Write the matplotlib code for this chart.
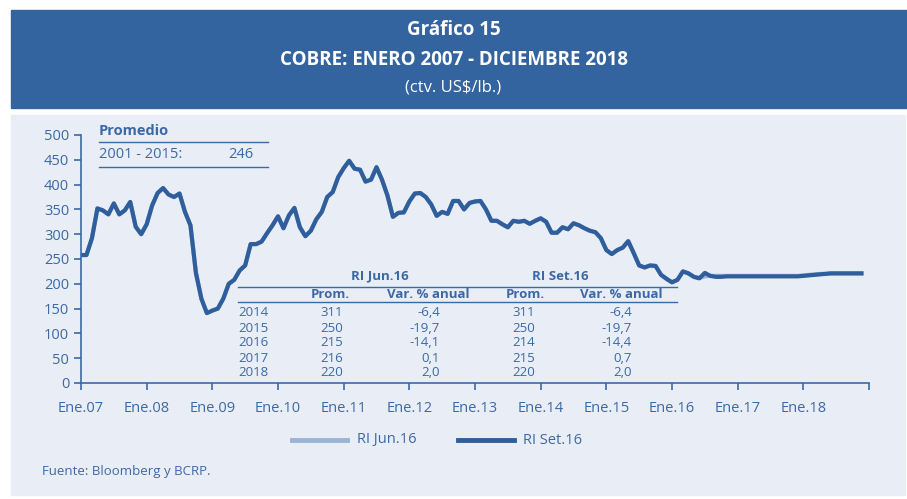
import numpy as np
import matplotlib
matplotlib.use("Agg")
from matplotlib import pyplot as plt
from matplotlib.patches import Rectangle
from matplotlib.lines import Line2D

# copper price, ctv. US$/lb, monthly Jan 2007 - Dec 2018
hist = [
    258, 258, 292, 352, 348, 340, 362, 340, 348, 365, 315, 300,  # 2007
    320, 358, 383, 393, 380, 375, 382, 345, 318, 222, 170, 141,  # 2008
    146, 150, 170, 200, 208, 227, 237, 280, 280, 285, 302, 318,  # 2009
    336, 312, 338, 353, 314, 296, 307, 330, 345, 375, 385, 415,  # 2010
    433, 448, 432, 430, 406, 410, 435, 410, 378, 335, 343, 344,  # 2011
    366, 382, 383, 375, 360, 337, 345, 341, 367, 367, 350, 363,  # 2012
    366, 367, 350, 327, 327, 320, 314, 327, 325, 327, 321, 327,  # 2013
    332, 325, 303, 303, 314, 310, 322, 318, 312, 307, 304, 292,  # 2014
    268, 260, 268, 273, 286, 262, 237, 233, 237, 236, 218, 210,  # 2015
    203, 208, 225, 221, 214,                                     # 2016 Jan-May
]
proj_jun16 = [
    212, 215, 216, 216, 216, 216, 216,
    216, 216, 216, 216, 216, 216, 216, 216, 216, 216, 216, 216,
    217, 218, 219, 220, 220, 221, 221, 221, 221, 221, 221, 221,
]
proj_set16 = [
    211, 222, 216, 214, 214, 215, 215,
    215, 215, 215, 215, 215, 215, 215, 215, 215, 215, 215, 215,
    216, 217, 218, 219, 220, 221, 221, 221, 221, 221, 221, 221,
]
ri_jun16 = hist + proj_jun16
ri_set16 = hist + proj_set16

years = ["Ene.07", "Ene.08", "Ene.09", "Ene.10", "Ene.11", "Ene.12",
         "Ene.13", "Ene.14", "Ene.15", "Ene.16", "Ene.17", "Ene.18"]

tab_years = ["2014", "2015", "2016", "2017", "2018"]
jun_prom = ["311", "250", "215", "216", "220"]
jun_var = ["-6,4", "-19,7", "-14,1", "0,1", "2,0"]
set_prom = ["311", "250", "214", "215", "220"]
set_var = ["-6,4", "-19,7", "-14,4", "0,7", "2,0"]

DARK = "#2F5E9C"
LIGHT = "#9CB3D5"
TXT = "#3B69A6"
BAND = "#3464A0"
PANEL = "#E9EDF5"

plt.rcParams['font.family'] = ['Open Sans', 'DejaVu Sans']

W, H = 907, 499
fig = plt.figure(figsize=(W / 100, H / 100), dpi=100)


def fx(x):
    return x / W


def fy(y):
    return 1 - y / H


fig.add_artist(Rectangle((fx(11), fy(108)), 1 - fx(11), 98 / H,
                         transform=fig.transFigure, color=BAND, zorder=-5))
fig.add_artist(Rectangle((fx(11), fy(495)), fx(905) - fx(11), 380 / H,
                         transform=fig.transFigure, color=PANEL, zorder=-5))

fig.text(0.5, fy(30), "Gráfico 15", color="white", fontsize=13.5,
         fontweight="bold", ha="center", va="center")
fig.text(0.5, fy(60), "COBRE: ENERO 2007 - DICIEMBRE 2018", color="white",
         fontsize=13.5, fontweight="bold", ha="center", va="center")
fig.text(0.5, fy(88), "(ctv. US$/lb.)", color="white", fontsize=12,
         ha="center", va="center")

ax = fig.add_axes([fx(81), fy(383), fx(869) - fx(81), (383 - 135) / H])
ax.set_facecolor("none")
x = np.arange(len(ri_set16))
ax.plot(x, ri_jun16, color=LIGHT, lw=3.0, solid_capstyle="butt")
ax.plot(x, ri_set16, color=DARK, lw=3.0, solid_capstyle="butt")
ax.set_xlim(0, 144)
ax.set_ylim(0, 500)
ax.set_yticks(range(0, 501, 50))
ax.set_xticks(list(range(0, 145, 12)))
ax.set_xticklabels(years + [""])
for s in ["top", "right"]:
    ax.spines[s].set_visible(False)
for s in ["left", "bottom"]:
    ax.spines[s].set_color(TXT)
    ax.spines[s].set_linewidth(1.2)
ax.tick_params(colors=TXT, labelsize=10.5, length=5, width=1.2, direction="out")
ax.tick_params(axis="x", pad=8)

# Promedio box
fig.text(fx(99), fy(131), "Promedio", color=TXT, fontsize=10.5,
         fontweight="bold", va="center")
fig.add_artist(Line2D([fx(99), fx(268)], [fy(142), fy(142)], color=TXT, lw=1))
fig.text(fx(99), fy(155), "2001 - 2015:", color=TXT, fontsize=10.5, va="center")
fig.text(fx(253), fy(155), "246", color=TXT, fontsize=10.5, va="center", ha="right")
fig.add_artist(Line2D([fx(99), fx(268)], [fy(167), fy(167)], color=TXT, lw=1))

# table
fs = 9.5
fig.text(fx(380), fy(276), "RI Jun.16", color=TXT, fontsize=fs,
         fontweight="bold", ha="center", va="center")
fig.text(fx(560), fy(276), "RI Set.16", color=TXT, fontsize=fs,
         fontweight="bold", ha="center", va="center")
fig.add_artist(Line2D([fx(238), fx(677)], [fy(287), fy(287)], color=TXT, lw=1))
fig.add_artist(Line2D([fx(238), fx(677)], [fy(302), fy(302)], color=TXT, lw=1))
for xr, lab in [(350, "Prom."), (470, "Var. % anual"), (545, "Prom."), (663, "Var. % anual")]:
    fig.text(fx(xr), fy(294.5), lab, color=TXT, fontsize=fs, fontweight="bold",
             ha="right", va="center")
rows_y = [313, 328, 343, 358, 373]
for i, yy in enumerate(rows_y):
    fig.text(fx(238), fy(yy), tab_years[i], color=TXT, fontsize=fs, va="center")
    fig.text(fx(343), fy(yy), jun_prom[i], color=TXT, fontsize=fs, va="center", ha="right")
    fig.text(fx(440), fy(yy), jun_var[i], color=TXT, fontsize=fs, va="center", ha="right")
    fig.text(fx(535), fy(yy), set_prom[i], color=TXT, fontsize=fs, va="center", ha="right")
    fig.text(fx(632), fy(yy), set_var[i], color=TXT, fontsize=fs, va="center", ha="right")

# legend
fig.add_artist(Line2D([fx(292), fx(347)], [fy(440), fy(440)], color=LIGHT, lw=3.5))
fig.text(fx(357), fy(440), "RI Jun.16", color=TXT, fontsize=10.5, va="center")
fig.add_artist(Line2D([fx(458), fx(514)], [fy(440), fy(440)], color=DARK, lw=3.5))
fig.text(fx(523), fy(440), "RI Set.16", color=TXT, fontsize=10.5, va="center")

fig.text(fx(42), fy(471), "Fuente: Bloomberg y BCRP.", color=TXT, fontsize=9.5,
         va="center")

fig.savefig("out.png", dpi=100, facecolor="white")
